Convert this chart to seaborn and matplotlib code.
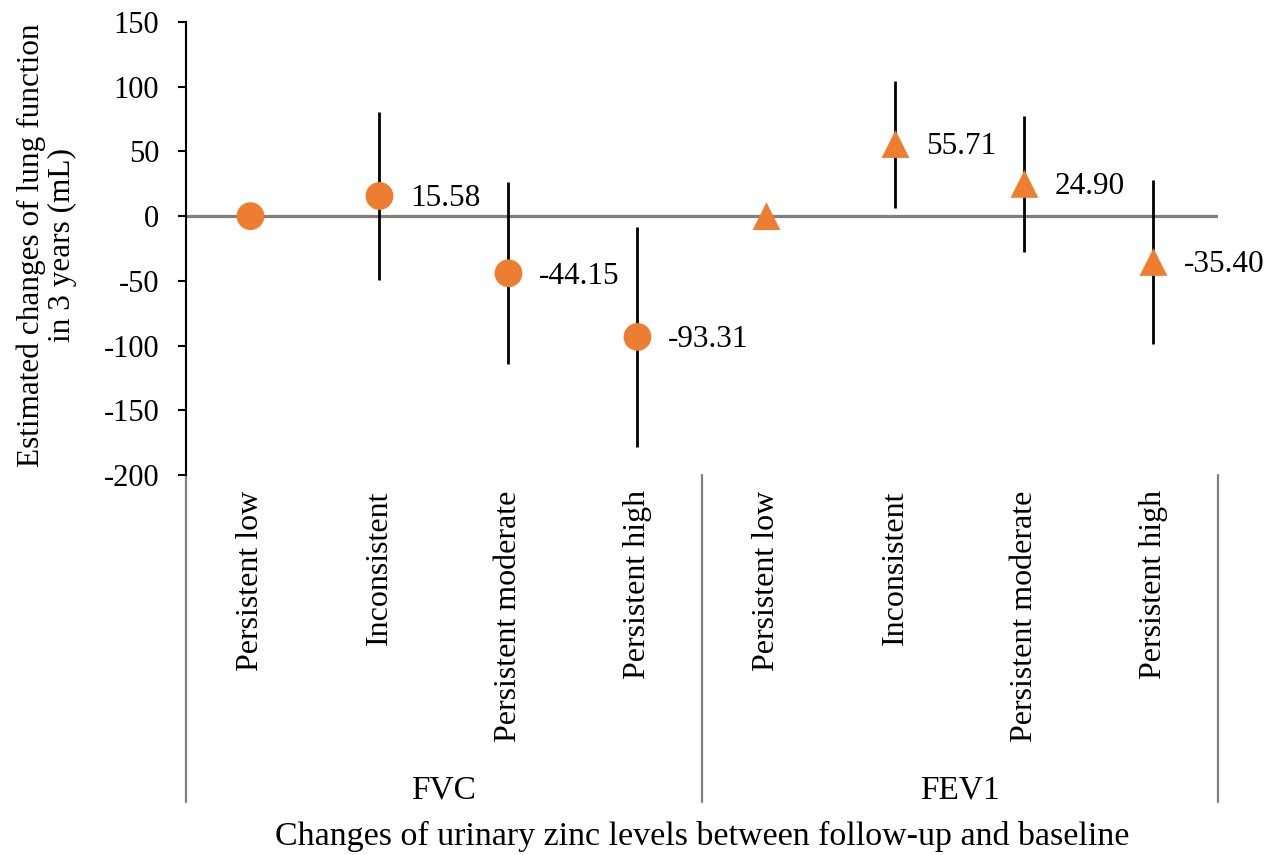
import numpy as np
import pandas as pd
import matplotlib
matplotlib.use('Agg')
import matplotlib.pyplot as plt
import matplotlib.transforms as mtransforms
import seaborn as sns

sns.set_style('ticks')
plt.rcParams['font.family'] = ['Liberation Serif', 'DejaVu Serif']
plt.rcParams['axes.unicode_minus'] = False
plt.rcParams['text.color'] = 'black'
plt.rcParams['axes.labelcolor'] = 'black'
plt.rcParams['xtick.color'] = 'black'
plt.rcParams['ytick.color'] = 'black'

OUTCOMES = ['FVC', 'FEV1']
LEVELS = ['Persistent low', 'Inconsistent', 'Persistent moderate', 'Persistent high']

# estimates and 95% CI bounds (reference group has no CI)
fvc_est = [0, 15.58, -44.15, -93.31]
fvc_lo = [np.nan, -49.5, -114.3, -178.2]
fvc_hi = [np.nan, 80.8, 26.4, -8.3]
fev1_est = [0, 55.71, 24.90, -35.40]
fev1_lo = [np.nan, 6.6, -27.6, -98.6]
fev1_hi = [np.nan, 104.5, 77.6, 28.2]

ORANGE = '#ED7D31'
GREY = '#7f7f7f'

df = pd.DataFrame({
    'outcome': [o for o in OUTCOMES for _ in LEVELS],
    'level': LEVELS * 2,
    'est': fvc_est + fev1_est,
    'lo': fvc_lo + fev1_lo,
    'hi': fvc_hi + fev1_hi,
})
df['pos'] = np.arange(len(df))

fig, ax = plt.subplots(figsize=(12.67, 8.55), dpi=100)
fig.subplots_adjust(left=0.1468, right=0.9613, top=0.9743, bottom=0.4444)

ax.axhline(0, color=GREY, lw=2.3, zorder=1)

ci = df.dropna(subset=['lo'])
ax.vlines(ci['pos'], ci['lo'], ci['hi'], color='black', lw=2.0, zorder=2)

sns.scatterplot(data=df, x='pos', y='est', style='outcome',
                markers={'FVC': 'o', 'FEV1': '^'}, color=ORANGE,
                s=400, edgecolor='none', linewidth=0, legend=False,
                ax=ax, zorder=3)

for _, row in ci.iterrows():
    ax.annotate('{:.2f}'.format(row['est']), (row['pos'], row['est']),
                xytext=(22, -2), textcoords='offset points',
                ha='left', va='center', fontsize=22.5)

ax.set_xlim(-0.5, len(df) - 0.5)
ax.set_ylim(-200, 150)
ax.set_yticks(np.arange(-200, 151, 50))
ax.set_xticks(df['pos'])
ax.set_xticklabels(df['level'], rotation=90, fontsize=23)
ax.tick_params(axis='x', length=0, pad=11)
ax.tick_params(axis='y', length=5.8, width=1.5, pad=13.5, labelsize=22)

for s in ['top', 'right', 'bottom']:
    ax.spines[s].set_visible(False)
ax.spines['left'].set_color('black')
ax.spines['left'].set_linewidth(1.5)

# group separators and group labels below the axis
trans = mtransforms.blended_transform_factory(ax.transData, ax.transAxes)
for xs in [-0.5, 3.5, 7.5]:
    ax.plot([xs, xs], [0, -0.722], transform=trans, color=GREY, lw=1.6, clip_on=False)
for i, name in enumerate(OUTCOMES):
    ax.text(1.5 + 4 * i, -0.695, name, transform=trans, ha='center', va='center', fontsize=24)

ax.set_xlabel('Changes of urinary zinc levels between follow-up and baseline', fontsize=24.5)
ax.xaxis.set_label_coords(0.5, -0.798)
ax.xaxis.label.set_va('center')
ax.set_ylabel('Estimated changes of lung function\nin 3 years (mL)', fontsize=22.5, linespacing=1.1)
ax.yaxis.set_label_coords(-0.1347, 0.508)
ax.yaxis.label.set_va('center')

plt.savefig('out.png', dpi=100)
plt.close('all')
